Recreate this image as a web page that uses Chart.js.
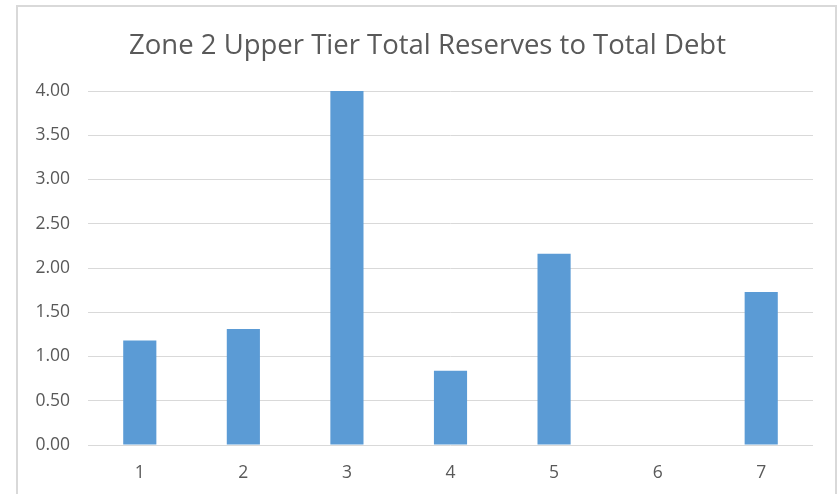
<!DOCTYPE html>
<html>
<head>
<meta charset="utf-8">
<script src="https://cdn.jsdelivr.net/npm/chart.js@4.4.0/dist/chart.umd.min.js"></script>
<style>
html,body{margin:0;padding:0;background:#fff;}
#wrap{width:839px;height:494px;position:relative;}
</style>
</head>
<body>
<div id="wrap"><canvas id="c" width="839" height="494"></canvas></div>
<script>
const categories = ["1", "2", "3", "4", "5", "6", "7"];
const ratioValues = [1.18, 1.31, 4.00, 0.84, 2.16, 0, 1.73];
const titleText = "Zone 2 Upper Tier Total Reserves to Total Debt";

const frame = {
  id: 'frame',
  beforeDraw(chart) {
    const ctx = chart.ctx;
    ctx.save();
    ctx.fillStyle = '#ffffff';
    ctx.fillRect(0, 0, chart.width, chart.height);
    ctx.fillStyle = '#d9d9d9';
    ctx.fillRect(16, 5, 2, 489);
    ctx.fillRect(16, 5, 821, 2);
    ctx.fillRect(835, 5, 2, 489);
    ctx.restore();
  }
};

// centre the title over the framed chart box (18..837) like the original
const titleShift = {
  id: 'titleShift',
  afterLayout(chart) {
    if (chart.titleBlock) {
      chart.titleBlock.left = 42;
    }
  }
};

new Chart(document.getElementById('c'), {
  type: 'bar',
  data: {
    labels: categories,
    datasets: [{
      data: ratioValues,
      backgroundColor: '#5b9bd5',
      borderWidth: 0,
      categoryPercentage: 1,
      barPercentage: 0.32
    }]
  },
  options: {
    responsive: false,
    animation: false,
    layout: { padding: { left: 20, right: 26, top: 10, bottom: 0 } },
    plugins: {
      legend: { display: false },
      tooltip: { enabled: false },
      title: {
        display: true,
        text: titleText,
        color: '#595959',
        font: { family: 'Open Sans', size: 27.5, weight: 'normal' },
        padding: { top: 20, bottom: 28 }
      }
    },
    scales: {
      x: {
        grid: { display: false, drawTicks: false },
        border: { display: false },
        ticks: { color: '#595959', font: { family: 'Open Sans', size: 17.5 }, padding: 18 },
        afterFit(s) { s.height = 49; }
      },
      y: {
        min: 0, max: 4,
        ticks: {
          stepSize: 0.5,
          color: '#595959',
          font: { family: 'Open Sans', size: 17.5 },
          padding: 18,
          callback: v => Number(v).toFixed(2)
        },
        grid: { color: '#d9d9d9', lineWidth: 1, drawTicks: false },
        border: { display: false },
        afterFit(s) { s.width = 68; }
      }
    }
  },
  plugins: [frame, titleShift]
});
</script>
</body>
</html>
